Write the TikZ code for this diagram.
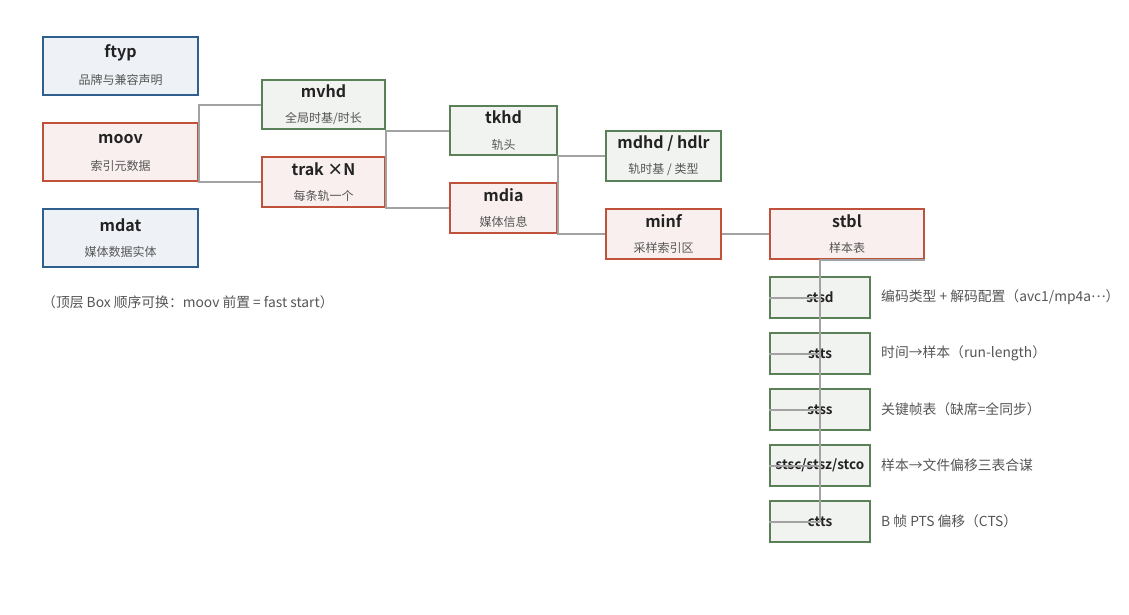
\documentclass[tikz,border=0pt]{standalone}
\usepackage{fontspec}
\setmainfont{Noto Sans CJK SC}[BoldFont={Noto Sans CJK SC Bold}]
\definecolor{boxblue}{HTML}{2F5F8F}
\definecolor{fillblue}{HTML}{EEF2F6}
\definecolor{boxred}{HTML}{C0523C}
\definecolor{fillred}{HTML}{F8EFEE}
\definecolor{boxgreen}{HTML}{5A8058}
\definecolor{fillgreen}{HTML}{F1F3F0}
\definecolor{linegray}{HTML}{A2A2A2}
\definecolor{ink}{HTML}{222222}
\definecolor{subink}{HTML}{555555}
\begin{document}
\begin{tikzpicture}[x=1pt,y=-1pt,
  box/.style={draw,line width=2pt,inner sep=0pt},
  bluebox/.style={box,draw=boxblue,fill=fillblue},
  redbox/.style={box,draw=boxred,fill=fillred},
  greenbox/.style={box,draw=boxgreen,fill=fillgreen},
  ttl/.style={font=\fontsize{16}{16}\selectfont\bfseries,text=ink,inner sep=0pt},
  sub/.style={font=\fontsize{12}{12}\selectfont,text=subink,inner sep=0pt},
  leaf/.style={greenbox,minimum width=100,minimum height=41,font=\fontsize{13.5}{13.5}\selectfont\bfseries,text=ink},
  desc/.style={font=\fontsize{13.8}{13.8}\selectfont,text=subink,anchor=west,inner sep=0pt},
  conn/.style={draw=linegray,line width=2pt}]
\useasboundingbox (0,0) rectangle (1129,614);
% top level
\node[bluebox,minimum width=155,minimum height=58] (ftyp) at (120.5,66) {};
\node[ttl] (ftyp-t) at ([yshift=13]ftyp.center) {ftyp};
\node[sub] (ftyp-s) at ([yshift=-14]ftyp.center) {品牌与兼容声明};
\node[redbox,minimum width=155,minimum height=58] (moov) at (120.5,152) {};
\node[ttl] (moov-t) at ([yshift=13]moov.center) {moov};
\node[sub] (moov-s) at ([yshift=-14]moov.center) {索引元数据};
\node[bluebox,minimum width=155,minimum height=58] (mdat) at (120.5,238) {};
\node[ttl] (mdat-t) at ([yshift=13]mdat.center) {mdat};
\node[sub] (mdat-s) at ([yshift=-14]mdat.center) {媒体数据实体};
\node[desc] (hint) at (42,302) {（顶层 Box 顺序可换：moov 前置 = fast start）};
% moov
\node[greenbox,minimum width=123,minimum height=49] (mvhd) at (323.5,104.5) {};
\node[ttl] (mvhd-t) at ([yshift=13]mvhd.center) {mvhd};
\node[sub] (mvhd-s) at ([yshift=-14]mvhd.center) {全局时基/时长};
\node[redbox,minimum width=123,minimum height=50] (trak) at (323.5,182) {};
\node[ttl] (trak-t) at ([yshift=13]trak.center) {trak ×N};
\node[sub] (trak-s) at ([yshift=-14]trak.center) {每条轨一个};
% trak
\node[greenbox,minimum width=107,minimum height=49] (tkhd) at (503.5,130.5) {};
\node[ttl] (tkhd-t) at ([yshift=13]tkhd.center) {tkhd};
\node[sub] (tkhd-s) at ([yshift=-14]tkhd.center) {轨头};
\node[redbox,minimum width=107,minimum height=50] (mdia) at (503.5,208) {};
\node[ttl] (mdia-t) at ([yshift=13]mdia.center) {mdia};
\node[sub] (mdia-s) at ([yshift=-14]mdia.center) {媒体信息};
% mdia
\node[greenbox,minimum width=115,minimum height=50] (mdhd) at (663.5,156) {};
\node[ttl] (mdhd-t) at ([yshift=13]mdhd.center) {mdhd / hdlr};
\node[sub] (mdhd-s) at ([yshift=-14]mdhd.center) {轨时基 / 类型};
\node[redbox,minimum width=115,minimum height=50] (minf) at (663.5,234) {};
\node[ttl] (minf-t) at ([yshift=13]minf.center) {minf};
\node[sub] (minf-s) at ([yshift=-14]minf.center) {采样索引区};
\node[redbox,minimum width=154,minimum height=50] (stbl) at (847,234) {};
\node[ttl] (stbl-t) at ([yshift=13]stbl.center) {stbl};
\node[sub] (stbl-s) at ([yshift=-14]stbl.center) {样本表};
% stbl
\node[leaf] (stsd) at (820,297.5) {stsd};
\node[leaf] (stts) at (820,353.5) {stts};
\node[leaf] (stss) at (820,409.5) {stss};
\node[leaf] (stsc) at (820,465.5) {stsc/stsz/stco};
\node[leaf] (ctts) at (820,521.5) {ctts};
\node[desc] (stsd-d) at (881,297.5) {编码类型 + 解码配置（avc1/mp4a\raisebox{0.3em}{…}）};
\node[desc] (stts-d) at (881,353.5) {时间→样本（run-length）};
\node[desc] (stss-d) at (881,409.5) {关键帧表（缺席=全同步）};
\node[desc] (stsc-d) at (881,465.5) {样本→文件偏移三表合谋};
\node[desc] (ctts-d) at (881,521.5) {B 帧 PTS 偏移（CTS）};
% connectors
\draw[conn] (moov.east) |- (mvhd.west);
\draw[conn] (moov.east) |- (trak.west);
\draw[conn] (trak.east) |- (tkhd.west);
\draw[conn] (trak.east) |- (mdia.west);
\draw[conn] (mdia.east) |- (mdhd.west);
\draw[conn] (mdia.east) |- (minf.west);
\draw[conn] (minf.east) -- (stbl.west);
\draw[conn] (stbl.south east) -| (ctts.center);
\foreach \c in {stsd,stts,stss,stsc,ctts}
  \draw[conn] (\c.west) -- (\c.center);
\end{tikzpicture}
\end{document}
